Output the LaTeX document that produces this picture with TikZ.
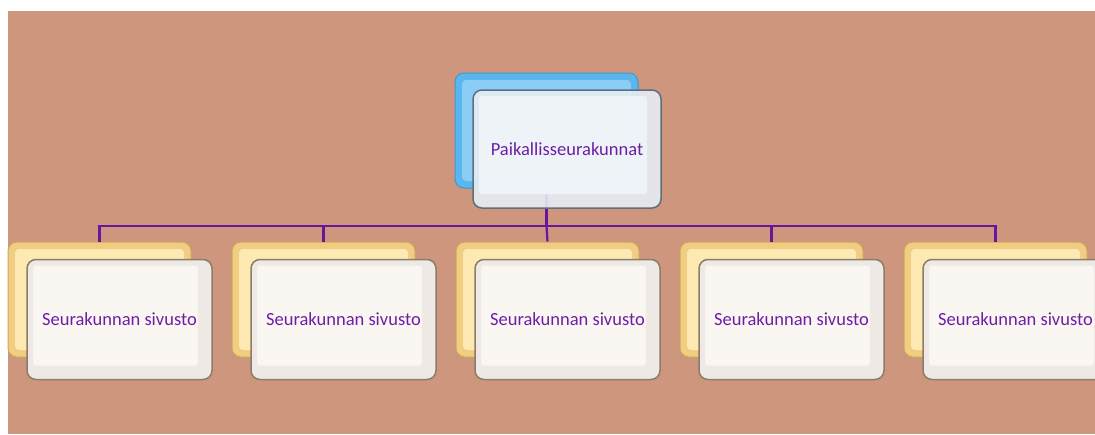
\documentclass[tikz,border=0pt]{standalone}
\usepackage{xcolor}
\usepackage{fontspec}
\setmainfont{Carlito}
\usepackage{tikz}

\definecolor{bgbrown}{RGB}{205,150,125}
\definecolor{orgline}{RGB}{104,22,160}
\definecolor{orgtext}{RGB}{110,30,165}
\definecolor{goldedge}{RGB}{205,165,100}
\definecolor{goldmid}{RGB}{240,205,128}
\definecolor{goldlight}{RGB}{253,234,178}
\definecolor{blueedge}{RGB}{70,150,205}
\definecolor{bluemid}{RGB}{90,182,238}
\definecolor{bluelight}{RGB}{140,205,245}
\definecolor{cardedge}{RGB}{140,124,104}
\definecolor{cardrim}{RGB}{238,233,228}
\definecolor{cardface}{RGB}{250,247,242}
\definecolor{icedge}{RGB}{90,112,126}
\definecolor{icrim}{RGB}{230,238,244}
\definecolor{icface}{RGB}{240,245,249}

\begin{document}
\begin{tikzpicture}[x=1pt, y=-1pt,
    backbox/.style={rounded corners=9pt, minimum width=183pt, minimum height=115pt,
      draw=goldedge, line width=1pt, fill=goldmid,
      path picture={\fill[goldlight, rounded corners=4pt]
        ([shift={(7pt,-7pt)}]path picture bounding box.north west) rectangle
        ([shift={(-7pt,7pt)}]path picture bounding box.south east);}},
    topback/.style={backbox, draw=blueedge, fill=bluemid,
      path picture={\fill[bluelight, rounded corners=4pt]
        ([shift={(7pt,-7pt)}]path picture bounding box.north west) rectangle
        ([shift={(-7pt,7pt)}]path picture bounding box.south east);}},
    card/.style={rounded corners=9pt, minimum width=185pt, minimum height=120pt,
      draw=cardedge, line width=1.5pt, fill=cardrim, text=orgtext,
      font=\fontsize{18.5}{22}\selectfont,
      path picture={\fill[cardface, rounded corners=3pt]
        ([shift={(6pt,-6pt)}]path picture bounding box.north west) rectangle
        ([shift={(-14pt,14pt)}]path picture bounding box.south east);}},
    topcard/.style={card, minimum width=188pt, minimum height=118pt, draw=icedge,
      fill=icrim, fill opacity=0.9, text opacity=1,
      path picture={\fill[icface, rounded corners=3pt]
        ([shift={(6pt,-6pt)}]path picture bounding box.north west) rectangle
        ([shift={(-14pt,14pt)}]path picture bounding box.south east);}},
    link/.style={draw=orgline, line width=2.2pt}
    ]
    \useasboundingbox (0,0) rectangle (1095,434);
    \fill[bgbrown] (8,11) rectangle (1095,434);

    % top level
    \node[topback] (pback) at (546.5,130.5) {};
    \coordinate (bus) at (546.5,226);
    \draw[link, line width=3pt] (pback.south) -- (bus);
    \node[topcard] (paik) at (567,149) {Paikallisseurakunnat};

    % second level
    \node[backbox] (sback1) at (99.5,299.5) {};
    \node[backbox] (sback2) at (323.5,299.5) {};
    \node[backbox] (sback3) at (547.5,299.5) {};
    \node[backbox] (sback4) at (771.5,299.5) {};
    \node[backbox] (sback5) at (995.5,299.5) {};
    \draw[link] (bus) -| (sback1.north);
    \draw[link] (bus) -| (sback2.north);
    \draw[link] (bus) -- (sback3.north);
    \draw[link] (bus) -| (sback4.north);
    \draw[link] (bus) -| (sback5.north);
    \node[card] (sivu1) at (119.5,319.5) {Seurakunnan sivusto};
    \node[card] (sivu2) at (343.5,319.5) {Seurakunnan sivusto};
    \node[card] (sivu3) at (567.5,319.5) {Seurakunnan sivusto};
    \node[card] (sivu4) at (791.5,319.5) {Seurakunnan sivusto};
    \node[card] (sivu5) at (1015.5,319.5) {Seurakunnan sivusto};
  \end{tikzpicture}
\end{document}
